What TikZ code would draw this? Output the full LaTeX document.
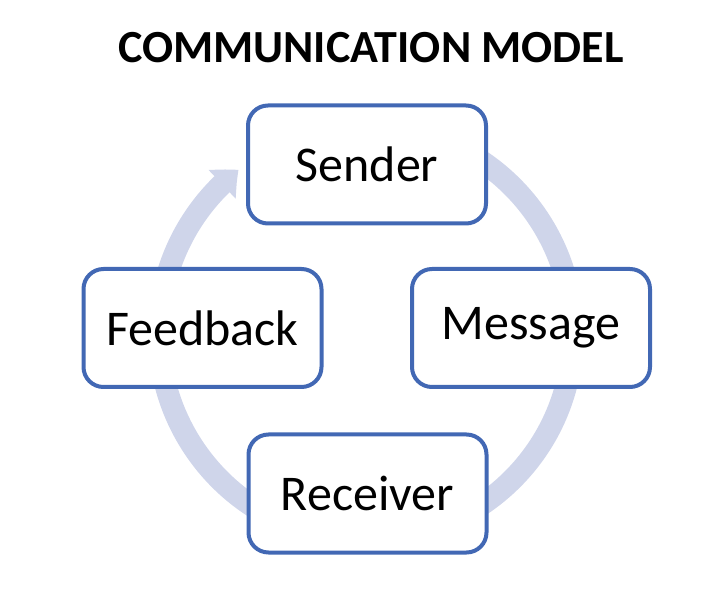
\documentclass[tikz,border=0pt]{standalone}
\usepackage{fontspec}
\setmainfont{Carlito}
\usetikzlibrary{arrows.meta,bending}
\definecolor{boxblue}{HTML}{4268B4}
\definecolor{ringblue}{HTML}{CFD5EA}
\begin{document}
\begin{tikzpicture}[x=1pt,y=1pt,
  stagebox/.style={draw=boxblue, line width=4pt, fill=white, rounded corners=20pt,
    minimum width=238pt, minimum height=118pt, inner sep=0pt,
    font=\fontsize{50}{56}\selectfont},
  ring/.style={draw=ringblue, line width=22pt}]
\useasboundingbox (0,0) rectangle (722,602);
\coordinate (c) at (366,269);
\draw[ring, -{Triangle[width=38pt,length=22pt,bend]}] ([shift={(80:207)}]c) arc[start angle=80, end angle=-232, radius=207];
\node[stagebox] (sender) at (367,437.5) {Sender};
\node[stagebox] (message) at (531,274) {Message};
\node[stagebox] (feedback) at (202.5,274) {Feedback};
\node[stagebox] (receiver) at (367.5,108.5) {Receiver};
\node[font=\fontsize{46}{52}\selectfont\bfseries] (title) at (371,554) {COMMUNICATION MODEL};
\end{tikzpicture}
\end{document}
